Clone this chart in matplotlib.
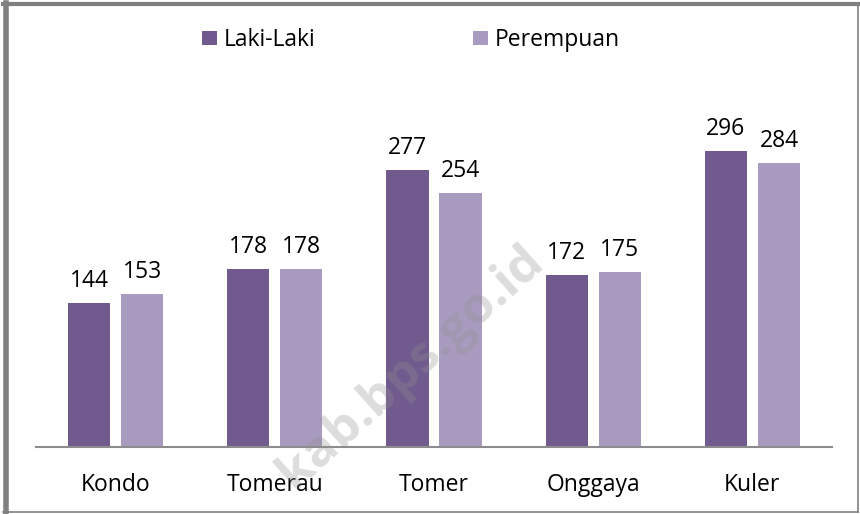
import matplotlib.pyplot as plt
import numpy as np
from matplotlib.lines import Line2D

plt.rcParams['font.family'] = ['Open Sans', 'DejaVu Sans']

categories = ['Kondo', 'Tomerau', 'Tomer', 'Onggaya', 'Kuler']
laki = [144, 178, 277, 172, 296]
perempuan = [153, 178, 254, 175, 284]

c_laki = '#715A8E'
c_per = '#A99BC0'

W, H = 860, 514
fig = plt.figure(figsize=(W / 100, H / 100), dpi=100)
ax = fig.add_axes([36 / W, (H - 447) / H, (832 - 36) / W, (447 - 97) / H])

x = np.arange(len(categories))
w = 0.265
off = 0.167
b1 = ax.bar(x - off, laki, w, color=c_laki, label='Laki-Laki')
b2 = ax.bar(x + off, perempuan, w, color=c_per, label='Perempuan')

for bars, vals in ((b1, laki), (b2, perempuan)):
    for b, v in zip(bars, vals):
        ax.annotate(str(v), (b.get_x() + b.get_width() / 2, v), xytext=(0, 7),
                    textcoords='offset points', ha='center', va='bottom', fontsize=16.5)

ax.set_xlim(-0.5, len(categories) - 0.5)
ax.set_ylim(0, 350)
ax.set_xticks(x)
ax.set_xticklabels(categories, fontsize=16.5)
ax.tick_params(axis='x', length=0, pad=19)
ax.set_yticks([])
for s in ('top', 'right', 'left'):
    ax.spines[s].set_visible(False)
ax.spines['bottom'].set_color('#8c8c8c')
ax.spines['bottom'].set_linewidth(1.5)

fig.legend(loc='center', bbox_to_anchor=(0.478, 0.922), ncol=2, frameon=False,
           fontsize=16.5, handlelength=0.62, handleheight=0.62, handletextpad=0.3,
           columnspacing=6.9)

# watermark
fig.text(0.478, 0.285, 'kab.bps.go.id', rotation=42, fontsize=37, fontweight='bold',
         color='#909090', alpha=0.3, ha='center', va='center', zorder=10)

# frame
fig.add_artist(Line2D([5.5 / W, 5.5 / W], [2 / H, 1 - 3 / H], lw=4, color='#808080'))
fig.add_artist(Line2D([3 / W, 1 - 2 / W], [1 - 3.5 / H, 1 - 3.5 / H], lw=3, color='#808080'))
fig.add_artist(Line2D([1 - 2 / W, 1 - 2 / W], [2 / H, 1 - 3 / H], lw=1.2, color='#808080'))
fig.add_artist(Line2D([3 / W, 1 - 2 / W], [2 / H, 2 / H], lw=1.2, color='#808080'))

fig.savefig('out.png', dpi=100)
